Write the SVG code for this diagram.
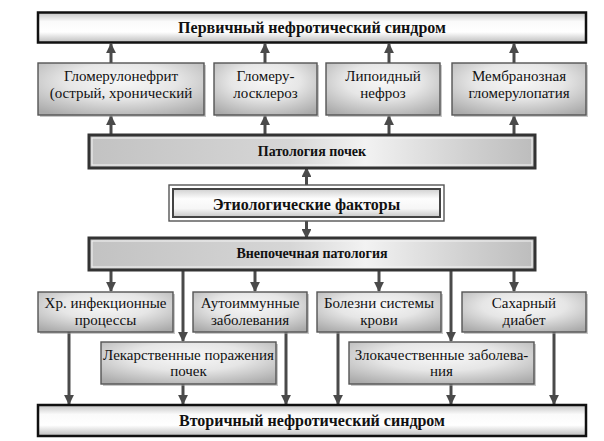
<svg xmlns="http://www.w3.org/2000/svg" width="604" height="441" viewBox="0 0 604 441" font-family="Liberation Serif, DejaVu Serif, serif">
  <defs>
    <linearGradient id="gTitle" x1="0" y1="0" x2="0" y2="1">
      <stop offset="0" stop-color="#c4c4c4"/>
      <stop offset="0.3" stop-color="#fafafa"/>
      <stop offset="0.65" stop-color="#ffffff"/>
      <stop offset="1" stop-color="#bdbdbd"/>
    </linearGradient>
    <linearGradient id="gBar" x1="0" y1="0" x2="1" y2="0">
      <stop offset="0" stop-color="#c2c2c2"/>
      <stop offset="0.45" stop-color="#d6d6d6"/>
      <stop offset="0.62" stop-color="#f2f2f2"/>
      <stop offset="0.85" stop-color="#d0d0d0"/>
      <stop offset="1" stop-color="#bcbcbc"/>
    </linearGradient>
    <linearGradient id="gEtio" x1="0" y1="0" x2="0" y2="1">
      <stop offset="0" stop-color="#d0d0d0"/>
      <stop offset="0.35" stop-color="#fdfdfd"/>
      <stop offset="0.7" stop-color="#f6f6f6"/>
      <stop offset="1" stop-color="#c8c8c8"/>
    </linearGradient>
    <radialGradient id="gBox" cx="0.5" cy="0.35" r="0.75">
      <stop offset="0" stop-color="#f7f7f7"/>
      <stop offset="0.45" stop-color="#e6e6e6"/>
      <stop offset="1" stop-color="#aaaaaa"/>
    </radialGradient>
    <marker id="ah" viewBox="0 0 10 10" refX="9" refY="5" markerWidth="3.3" markerHeight="3.3" orient="auto" markerUnits="strokeWidth">
      <path d="M0,0 L10,5 L0,10 Z" fill="#4a4a4a"/>
    </marker>
  </defs>
  <style>
    .title { fill: url(#gTitle); stroke: #111; stroke-width: 2.5; }
    .bar { fill: url(#gBar); stroke: #333; stroke-width: 3; }
    .barIn { fill: none; stroke: #f4f4f4; stroke-width: 1; }
    .box { fill: url(#gBox); stroke: #555; stroke-width: 1.4; }
    .shadow { fill: #9a9a9a; opacity: 0.55; }
    .etioOut { fill: #ffffff; stroke: #555; stroke-width: 1.4; }
    .etioIn { fill: url(#gEtio); stroke: #444; stroke-width: 2; }
    text { fill: #111; text-anchor: middle; }
    .tb { font-weight: bold; }
    .tn { font-size: 15px; }
    .arr { stroke: #4a4a4a; stroke-width: 3; fill: none; marker-end: url(#ah); }
  </style>

  <rect width="604" height="441" fill="#ffffff"/>

  <!-- connectors -->
  <g id="connectors">
    <!-- row of primary forms up to primary syndrome -->
    <line class="arr" x1="111" y1="63" x2="111" y2="44"/>
    <line class="arr" x1="265" y1="63" x2="265" y2="44"/>
    <line class="arr" x1="389" y1="63" x2="389" y2="44"/>
    <line class="arr" x1="514" y1="63" x2="514" y2="44"/>
    <!-- kidney pathology up to primary forms -->
    <line class="arr" x1="111" y1="135" x2="111" y2="116"/>
    <line class="arr" x1="265" y1="135" x2="265" y2="116"/>
    <line class="arr" x1="389" y1="135" x2="389" y2="116"/>
    <line class="arr" x1="514" y1="135" x2="514" y2="116"/>
    <!-- etiology factors -->
    <line class="arr" x1="306.5" y1="185" x2="306.5" y2="168"/>
    <line class="arr" x1="306.5" y1="221" x2="306.5" y2="238"/>
    <!-- extrarenal pathology down to secondary causes -->
    <line class="arr" x1="111" y1="270" x2="111" y2="291"/>
    <line class="arr" x1="255" y1="270" x2="255" y2="291"/>
    <line class="arr" x1="379" y1="270" x2="379" y2="291"/>
    <line class="arr" x1="514" y1="270" x2="514" y2="291"/>
    <line class="arr" x1="183" y1="270" x2="183" y2="341"/>
    <line class="arr" x1="451" y1="270" x2="451" y2="341"/>
    <!-- secondary causes down to secondary syndrome -->
    <line class="arr" x1="69" y1="332" x2="69" y2="404"/>
    <line class="arr" x1="183" y1="384" x2="183" y2="404"/>
    <line class="arr" x1="286" y1="332" x2="286" y2="404"/>
    <line class="arr" x1="338" y1="332" x2="338" y2="404"/>
    <line class="arr" x1="451" y1="384" x2="451" y2="404"/>
    <line class="arr" x1="554" y1="332" x2="554" y2="404"/>
  </g>

  <g id="primary">
    <rect class="title" x="38" y="12.5" width="548" height="30"/>
    <text class="tb" x="312" y="32.5" font-size="16">Первичный нефротический синдром</text>
  </g>

  <g id="glomerulonephritis">
    <rect class="shadow" x="40" y="65" width="166" height="52"/>
    <rect class="box" x="38" y="63" width="166" height="52"/>
    <text class="tn" x="121" y="81">Гломерулонефрит</text>
    <text class="tn" x="121" y="98">(острый, хронический</text>
  </g>
  <g id="glomerulosclerosis">
    <rect class="shadow" x="216" y="65" width="103" height="52"/>
    <rect class="box" x="214" y="63" width="103" height="52"/>
    <text class="tn" x="265.5" y="81">Гломеру-</text>
    <text class="tn" x="265.5" y="98">лосклероз</text>
  </g>
  <g id="lipoid">
    <rect class="shadow" x="328" y="65" width="114" height="52"/>
    <rect class="box" x="326" y="63" width="114" height="52"/>
    <text class="tn" x="383" y="81">Липоидный</text>
    <text class="tn" x="383" y="98">нефроз</text>
  </g>
  <g id="membranous">
    <rect class="shadow" x="454" y="65" width="134" height="52"/>
    <rect class="box" x="452" y="63" width="134" height="52"/>
    <text class="tn" x="519" y="81">Мембранозная</text>
    <text class="tn" x="519" y="98">гломерулопатия</text>
  </g>

  <g id="kidney-pathology">
    <rect class="bar" x="89" y="135" width="446" height="33"/>
    <rect class="barIn" x="92" y="138" width="440" height="27"/>
    <text class="tb" x="312" y="156" font-size="14">Патология почек</text>
  </g>

  <g id="etiology">
    <rect class="etioOut" x="169" y="185" width="275" height="36"/>
    <rect class="etioIn" x="173" y="189" width="267" height="28"/>
    <text class="tb" x="306.5" y="210" font-size="16">Этиологические факторы</text>
  </g>

  <g id="extrarenal-pathology">
    <rect class="bar" x="89" y="238" width="446" height="32"/>
    <rect class="barIn" x="92" y="241" width="440" height="26"/>
    <text class="tb" x="312" y="258" font-size="14">Внепочечная патология</text>
  </g>

  <g id="infections">
    <rect class="shadow" x="40" y="294" width="135" height="40"/>
    <rect class="box" x="38" y="292" width="135" height="40"/>
    <text class="tn" x="105.5" y="308">Хр. инфекционные</text>
    <text class="tn" x="105.5" y="325">процессы</text>
  </g>
  <g id="autoimmune">
    <rect class="shadow" x="195" y="294" width="114" height="40"/>
    <rect class="box" x="193" y="292" width="114" height="40"/>
    <text class="tn" x="250" y="308">Аутоиммунные</text>
    <text class="tn" x="250" y="325">заболевания</text>
  </g>
  <g id="blood">
    <rect class="shadow" x="319" y="294" width="124" height="40"/>
    <rect class="box" x="317" y="292" width="124" height="40"/>
    <text class="tn" x="379" y="308">Болезни системы</text>
    <text class="tn" x="379" y="325">крови</text>
  </g>
  <g id="diabetes">
    <rect class="shadow" x="464" y="294" width="124" height="40"/>
    <rect class="box" x="462" y="292" width="124" height="40"/>
    <text class="tn" x="524" y="308">Сахарный</text>
    <text class="tn" x="524" y="325">диабет</text>
  </g>
  <g id="drug-lesions">
    <rect class="shadow" x="103" y="344" width="175" height="42"/>
    <rect class="box" x="101" y="342" width="175" height="42"/>
    <text class="tn" x="188.5" y="360">Лекарственные поражения</text>
    <text class="tn" x="188.5" y="376">почек</text>
  </g>
  <g id="malignant">
    <rect class="shadow" x="351" y="344" width="185" height="42"/>
    <rect class="box" x="349" y="342" width="185" height="42"/>
    <text class="tn" x="441.5" y="360">Злокачественные заболева-</text>
    <text class="tn" x="441.5" y="376">ния</text>
  </g>

  <g id="secondary">
    <rect class="title" x="38" y="405" width="548" height="31"/>
    <text class="tb" x="312" y="425.5" font-size="16">Вторичный нефротический синдром</text>
  </g>
</svg>
